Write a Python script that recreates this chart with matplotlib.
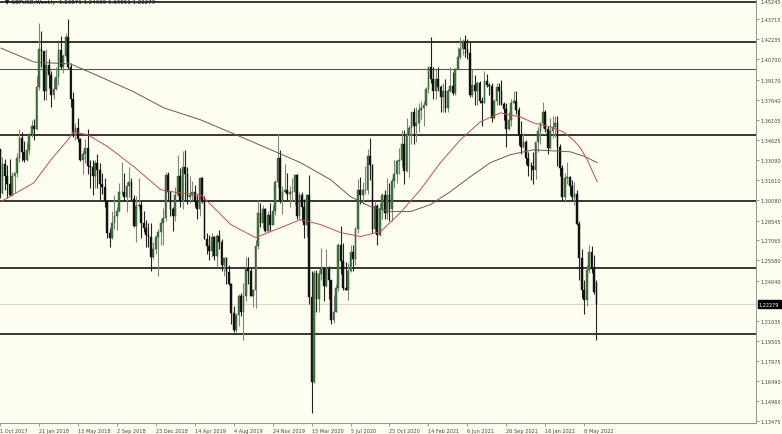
import numpy as np
import matplotlib
matplotlib.use("Agg")
from matplotlib import pyplot as plt

###########################################################################
# Weekly GBPUSD candles, week 0 = 1 Oct 2017 ... week 245 = 12 Jun 2022
###########################################################################
first_open = 1.3395
closes = [
    # 2017 (Oct-Dec)
    1.3066, 1.3285, 1.3193, 1.3130, 1.3046, 1.3190, 1.3215, 1.3330, 1.3475, 1.3376,
    1.3310, 1.3390, 1.3510, 1.3570,
    # 2018
    1.3545, 1.3860, 1.4145, 1.4130, 1.3830, 1.4030, 1.3950, 1.3805, 1.3850, 1.3935,
    1.4140, 1.4010, 1.4095, 1.4235, 1.4010, 1.3770, 1.3515, 1.3555, 1.3470, 1.3315,
    1.3355, 1.3405, 1.3270, 1.3260, 1.3195, 1.3290, 1.3235, 1.3130, 1.3110, 1.3000,
    1.2760, 1.2725, 1.2840, 1.2890, 1.2925, 1.3070, 1.3075, 1.3030, 1.3115, 1.3150,
    1.3015, 1.2815, 1.2965, 1.2975, 1.2835, 1.2800, 1.2745, 1.2735, 1.2580, 1.2640,
    1.2735, 1.2770,
    # 2019
    1.2840, 1.2875, 1.3200, 1.3075, 1.2940, 1.2890, 1.3045, 1.3190, 1.3005, 1.3260,
    1.3205, 1.3035, 1.3045, 1.3070, 1.2995, 1.2940, 1.3180, 1.3005, 1.2720, 1.2665,
    1.2625, 1.2735, 1.2590, 1.2740, 1.2695, 1.2520, 1.2575, 1.2470, 1.2375, 1.2160,
    1.2035, 1.2145, 1.2290, 1.2165, 1.2290, 1.2500, 1.2475, 1.2290, 1.2330, 1.2665,
    1.2910, 1.2835, 1.2940, 1.2780, 1.2900, 1.2825, 1.2925, 1.3145, 1.3330, 1.3010,
    1.3075, 1.3085,
    # 2020
    1.3060, 1.3070, 1.3075, 1.3200, 1.2890, 1.3045, 1.2960, 1.2825, 1.3045, 1.2280,
    1.1640, 1.2465, 1.2265, 1.2455, 1.2495, 1.2365, 1.2490, 1.2405, 1.2110, 1.2170,
    1.2345, 1.2670, 1.2550, 1.2345, 1.2335, 1.2480, 1.2620, 1.2570, 1.2795, 1.3085,
    1.3050, 1.3085, 1.3090, 1.3345, 1.3275, 1.2795, 1.2965, 1.2745, 1.2945, 1.3050,
    1.2915, 1.3045, 1.2945, 1.3155, 1.3205, 1.3305, 1.3315, 1.3435, 1.3230, 1.3510,
    1.3555, 1.3670,
    # 2021
    1.3565, 1.3590, 1.3690, 1.3705, 1.3725, 1.3850, 1.4010, 1.3925, 1.3835, 1.3925,
    1.3865, 1.3790, 1.3830, 1.3705, 1.3835, 1.3870, 1.3815, 1.4000, 1.4090, 1.4150,
    1.4210, 1.4150, 1.4115, 1.3805, 1.3880, 1.3835, 1.3890, 1.3760, 1.3745, 1.3905,
    1.3880, 1.3870, 1.3625, 1.3760, 1.3865, 1.3835, 1.3735, 1.3700, 1.3545, 1.3615,
    1.3745, 1.3760, 1.3685, 1.3500, 1.3410, 1.3445, 1.3325, 1.3270, 1.3265, 1.3235,
    1.3445, 1.3530,
    # 2022
    1.3590, 1.3675, 1.3545, 1.3400, 1.3530, 1.3560, 1.3590, 1.3410, 1.3250, 1.3035,
    1.3180, 1.3185, 1.3115, 1.3035, 1.3060, 1.2830, 1.2575, 1.2335, 1.2260, 1.2485,
    1.2620, 1.2490, 1.2315, 1.22279,
]
highs = [
    1.3395, 1.3338, 1.3320, 1.3275, 1.3322, 1.3222, 1.3225, 1.3366, 1.3549, 1.3525,
    1.3456, 1.3445, 1.3515, 1.3613,
    1.3620, 1.3944, 1.4345, 1.4283, 1.4136, 1.4145, 1.4070, 1.3985, 1.3930, 1.4010,
    1.4200, 1.4245, 1.4110, 1.4270, 1.4377, 1.4040, 1.3825, 1.3590, 1.3625, 1.3475,
    1.3385, 1.3472, 1.3545, 1.3315, 1.3310, 1.3315, 1.3360, 1.3290, 1.3215, 1.3180,
    1.3005, 1.2800, 1.2925, 1.3045, 1.2960, 1.3140, 1.3300, 1.3215, 1.3145, 1.3260,
    1.3180, 1.3045, 1.3040, 1.3175, 1.3000, 1.2930, 1.2860, 1.2840, 1.2840, 1.2695,
    1.2745, 1.2790,
    1.2865, 1.2950, 1.3220, 1.3220, 1.3080, 1.2955, 1.3110, 1.3350, 1.3255, 1.3380,
    1.3385, 1.3260, 1.3195, 1.3155, 1.3125, 1.3045, 1.3185, 1.3185, 1.3040, 1.2760,
    1.2750, 1.2760, 1.2740, 1.2755, 1.2785, 1.2715, 1.2580, 1.2580, 1.2520, 1.2385,
    1.2210, 1.2160, 1.2305, 1.2310, 1.2385, 1.2580, 1.2580, 1.2510, 1.2340, 1.2710,
    1.3010, 1.2985, 1.2975, 1.2950, 1.2925, 1.2985, 1.2975, 1.3160, 1.3515, 1.3385,
    1.3120, 1.3285,
    1.3215, 1.3115, 1.3175, 1.3205, 1.3210, 1.3070, 1.3070, 1.3015, 1.3055, 1.3200,
    1.2480, 1.2485, 1.2485, 1.2485, 1.2650, 1.2510, 1.2640, 1.2515, 1.2410, 1.2295,
    1.2380, 1.2690, 1.2815, 1.2690, 1.2545, 1.2535, 1.2670, 1.2670, 1.2805, 1.3170,
    1.3185, 1.3145, 1.3265, 1.3395, 1.3480, 1.3285, 1.3005, 1.2980, 1.2985, 1.3065,
    1.3085, 1.3180, 1.3140, 1.3175, 1.3315, 1.3310, 1.3400, 1.3540, 1.3540, 1.3625,
    1.3575, 1.3670,
    1.3705, 1.3710, 1.3745, 1.3760, 1.3760, 1.3865, 1.4015, 1.4240, 1.4015, 1.4000,
    1.4015, 1.3875, 1.3890, 1.3920, 1.3845, 1.4010, 1.3975, 1.4005, 1.4165, 1.4235,
    1.4220, 1.4250, 1.4220, 1.4200, 1.4000, 1.3955, 1.3905, 1.3910, 1.3785, 1.3985,
    1.3960, 1.3890, 1.3890, 1.3770, 1.3890, 1.3890, 1.3915, 1.3750, 1.3745, 1.3675,
    1.3775, 1.3835, 1.3830, 1.3715, 1.3605, 1.3515, 1.3465, 1.3375, 1.3300, 1.3375,
    1.3450, 1.3560,
    1.3600, 1.3750, 1.3690, 1.3565, 1.3630, 1.3640, 1.3645, 1.3645, 1.3435, 1.3275,
    1.3215, 1.3300, 1.3190, 1.3160, 1.3145, 1.3090, 1.2855, 1.2640, 1.2410, 1.2525,
    1.2670, 1.2665, 1.2600, 1.24069,
]
lows = [
    1.3027, 1.3060, 1.3086, 1.3027, 1.3039, 1.3040, 1.3062, 1.3183, 1.3300, 1.3303,
    1.3300, 1.3301, 1.3360, 1.3488,
    1.3460, 1.3540, 1.3840, 1.4010, 1.3765, 1.3765, 1.3855, 1.3710, 1.3770, 1.3840,
    1.3880, 1.4000, 1.3965, 1.4055, 1.3995, 1.3710, 1.3486, 1.3460, 1.3445, 1.3305,
    1.3205, 1.3290, 1.3205, 1.3100, 1.3050, 1.3100, 1.3100, 1.3010, 1.3060, 1.2955,
    1.2725, 1.2660, 1.2720, 1.2790, 1.2785, 1.2920, 1.3045, 1.3005, 1.2920, 1.3030,
    1.3000, 1.2805, 1.2695, 1.2940, 1.2725, 1.2770, 1.2660, 1.2660, 1.2475, 1.2565,
    1.2605, 1.2440,
    1.2670, 1.2670, 1.2850, 1.3005, 1.2890, 1.2775, 1.2855, 1.3040, 1.2960, 1.2945,
    1.3005, 1.2980, 1.2985, 1.3010, 1.2960, 1.2865, 1.2890, 1.2985, 1.2715, 1.2605,
    1.2560, 1.2580, 1.2560, 1.2505, 1.2640, 1.2480, 1.2440, 1.2380, 1.2370, 1.2080,
    1.2015, 1.2015, 1.2065, 1.2140, 1.1960, 1.2250, 1.2380, 1.2285, 1.2205, 1.2195,
    1.2645, 1.2805, 1.2800, 1.2770, 1.2770, 1.2780, 1.2820, 1.2895, 1.3110, 1.2990,
    1.2905, 1.3070,
    1.3010, 1.2955, 1.3000, 1.2975, 1.2870, 1.2870, 1.2850, 1.2725, 1.2730, 1.2225,
    1.1410, 1.1635, 1.2165, 1.2165, 1.2405, 1.2250, 1.2355, 1.2265, 1.2075, 1.2085,
    1.2165, 1.2325, 1.2455, 1.2335, 1.2330, 1.2255, 1.2470, 1.2480, 1.2525, 1.2765,
    1.2980, 1.2980, 1.3055, 1.3060, 1.3165, 1.2760, 1.2765, 1.2675, 1.2740, 1.2865,
    1.2865, 1.2865, 1.2855, 1.2855, 1.3105, 1.3140, 1.3210, 1.3260, 1.3135, 1.3220,
    1.3185, 1.3435,
    1.3430, 1.3450, 1.3520, 1.3620, 1.3565, 1.3720, 1.3815, 1.3895, 1.3775, 1.3775,
    1.3830, 1.3670, 1.3670, 1.3670, 1.3670, 1.3825, 1.3805, 1.3800, 1.3990, 1.4075,
    1.4105, 1.4090, 1.4075, 1.3790, 1.3790, 1.3730, 1.3730, 1.3740, 1.3570, 1.3740,
    1.3860, 1.3800, 1.3600, 1.3620, 1.3730, 1.3730, 1.3725, 1.3610, 1.3410, 1.3540,
    1.3570, 1.3740, 1.3660, 1.3425, 1.3355, 1.3405, 1.3280, 1.3195, 1.3160, 1.3135,
    1.3170, 1.3375,
    1.3430, 1.3555, 1.3520, 1.3360, 1.3395, 1.3480, 1.3485, 1.3270, 1.3195, 1.3000,
    1.2995, 1.3135, 1.3050, 1.3000, 1.2975, 1.2820, 1.2410, 1.2275, 1.2155, 1.2210,
    1.2465, 1.2460, 1.2300, 1.19551,
]
last_open = 1.23871

# moving averages as (week, price) points
red_ma_week = [0.4, 13.9, 20.9, 27.9, 30, 36.1, 44.3, 55, 66, 73, 82.5, 94.8, 105,
               115.3, 123.5, 131.7, 139.9, 148.1, 156.3, 164.5, 172.7, 180.9,
               189.1, 197.3, 205.5, 213.7, 219.1, 226, 231.4, 235.5, 238.4, 241.2, 245.3]
red_ma_price = [1.2999, 1.3141, 1.3314, 1.3464, 1.3524, 1.3502, 1.3412, 1.3262, 1.3089,
                1.3066, 1.3051, 1.2826, 1.2728, 1.2803, 1.2864, 1.2826, 1.2766, 1.2736,
                1.2773, 1.2916, 1.3089, 1.3292, 1.3464, 1.3599, 1.3667, 1.3637, 1.3592,
                1.3562, 1.3524, 1.3464, 1.3404, 1.3314, 1.3149]
dark_ma_week = [0.4, 13.9, 29.1, 41.4, 55, 67.3, 82.5, 98.9, 113.2, 123.5, 135.8, 144,
                152.2, 160.4, 168.6, 176.8, 185, 193.2, 201.4, 209.6, 219.1, 226,
                234.3, 240.4, 245.3]
dark_ma_price = [1.4155, 1.4050, 1.4035, 1.3937, 1.3825, 1.3705, 1.3614, 1.3487, 1.3374,
                 1.3292, 1.3164, 1.3036, 1.2961, 1.2924, 1.2924, 1.2976, 1.3074, 1.3186,
                 1.3292, 1.3352, 1.3389, 1.3382, 1.3374, 1.3337, 1.3292]

# horizontal levels drawn on the chart
levels = [1.45, 1.42, 1.35, 1.30, 1.25, 1.20]
thin_level = 1.40

price_ticks = [1.45245, 1.43715, 1.42235, 1.40700, 1.39170, 1.37640, 1.36105, 1.34625,
               1.33090, 1.31610, 1.30080, 1.28545, 1.27065, 1.25580, 1.24040, 1.21035,
               1.19505, 1.17975, 1.16490, 1.14960, 1.13475]
date_ticks = list(range(0, 241, 16))
date_labels = ["1 Oct 2017", "21 Jan 2018", "13 May 2018", "2 Sep 2018", "23 Dec 2018",
               "14 Apr 2019", "4 Aug 2019", "24 Nov 2019", "15 Mar 2020", "5 Jul 2020",
               "25 Oct 2020", "14 Feb 2021", "6 Jun 2021", "26 Sep 2021", "16 Jan 2022",
               "8 May 2022"]
title = "\u25bc GBPUSD,Weekly  1.23871 1.24069 1.19551 1.22279"
last_price = 1.22279

###########################################################################
# Plot
###########################################################################
bg = "#fefef0"
fig = plt.figure(figsize=(7.82, 4.35), dpi=100, facecolor=bg)
ax = fig.add_axes([0, 11 / 435, 756 / 782, 1 - 11 / 435], facecolor=bg)

closes = np.array(closes)
opens = np.concatenate([[first_open], closes[:-1]])
opens[-1] = last_open
highs = np.array(highs)
lows = np.array(lows)
weeks = np.arange(len(closes))
up = closes >= opens

# current price line
ax.axhline(last_price, color="#ddd5cc", lw=0.7, zorder=1)

# levels
for lv in levels:
    ax.axhline(lv, color="black", lw=1.1, zorder=2)
ax.axhline(thin_level, color="#555555", lw=0.8, zorder=2)

# wicks
ax.vlines(weeks[up], lows[up], highs[up], color="#7d877d", lw=0.8, zorder=3)
ax.vlines(weeks[~up], lows[~up], highs[~up], color="#222222", lw=0.8, zorder=3)

# bodies
body_lo = np.minimum(opens, closes)
body_h = np.maximum(np.abs(closes - opens), 0.0004)
ax.bar(weeks[up], body_h[up], bottom=body_lo[up], width=0.72, color="#3f7f3f",
       edgecolor="#2a4a2a", lw=0.3, zorder=4)
ax.bar(weeks[~up], body_h[~up], bottom=body_lo[~up], width=0.72, color="#111111",
       edgecolor="#111111", lw=0.3, zorder=4)

# moving averages
ax.plot(dark_ma_week, dark_ma_price, color="#6b5a50", lw=0.7, zorder=5)
ax.plot(red_ma_week, red_ma_price, color="#c0504d", lw=0.7, zorder=5)

ax.set_xlim(0.41, 310.56)
ax.set_ylim(1.1332, 1.4515)

for s in ["top", "left"]:
    ax.spines[s].set_visible(False)
ax.spines["right"].set_color("#9a9a9a")
ax.spines["bottom"].set_color("#9a9a9a")
ax.spines["right"].set_linewidth(0.8)
ax.spines["bottom"].set_linewidth(0.8)

ax.yaxis.tick_right()
ax.set_yticks(price_ticks)
ax.set_yticklabels(["%.5f" % p for p in price_ticks])
ax.tick_params(axis="y", length=2, width=0.6, color="#888888", labelsize=3.6,
               labelcolor="#444444", pad=1.5)
# top label sits at the edge: hang it from its tick so it stays on the canvas
ax.get_yticklabels()[0].set_va("top")
ax.set_xticks(date_ticks)
ax.set_xticklabels(date_labels, ha="left")
ax.tick_params(axis="x", length=2.5, width=0.6, color="#888888", labelsize=3.6,
               labelcolor="#444444", pad=1)

# current price tag
ax.annotate("%.5f" % last_price, xy=(1.0, last_price), xycoords=("axes fraction", "data"),
            xytext=(2, 0), textcoords="offset points", ha="left", va="center",
            fontsize=3.6, color="white", zorder=10, annotation_clip=False,
            bbox=dict(boxstyle="square,pad=0.25", fc="black", ec="black"))

fig.text(0.006, 0.994, title, fontsize=4, va="center", ha="left", color="#111111")

fig.savefig("out.png", dpi=100, facecolor=bg)
